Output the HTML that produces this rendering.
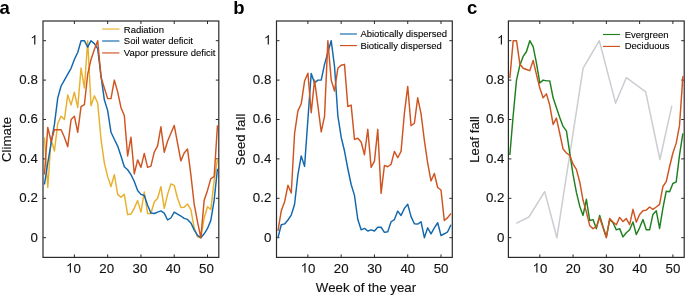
<!DOCTYPE html>
<html><head><meta charset="utf-8"><style>
html,body{margin:0;padding:0;background:#fff;}
svg{display:block;will-change:transform;}
text{font-family:"Liberation Sans",sans-serif;fill:#111;}
.tk{font-size:13.3px;stroke:#111;stroke-width:0.12px;}
.lb{font-size:13.3px;stroke:#111;stroke-width:0.12px;}
.lg{font-size:9.5px;fill:#000;stroke:#000;stroke-width:0.1px;}
.pl{font-size:18.5px;font-weight:bold;fill:#000;}
</style></head><body>
<svg width="685" height="295" viewBox="0 0 685 295">

<text x="-0.6" y="13.6" class="pl">a</text>
<text x="233.2" y="13.6" class="pl">b</text>
<text x="467.0" y="13.6" class="pl">c</text>
<rect x="43.0" y="21.0" width="175.8" height="236.39999999999998" fill="none" stroke="#2a2a2a" stroke-width="1.2"/>
<line x1="74.40" y1="21.0" x2="74.40" y2="24.0" stroke="#2a2a2a" stroke-width="1"/>
<line x1="74.40" y1="257.4" x2="74.40" y2="254.39999999999998" stroke="#2a2a2a" stroke-width="1"/>
<path d="M70.956,272.500 L69.787,272.500 L69.787,265.051 L68.839,265.850 L67.449,266.525 L67.449,265.395 L69.313,264.278 L70.345,262.980 L70.956,262.980Z" fill="#111"/>
<text x="73.40" y="272.5" class="tk">0</text>
<line x1="107.67" y1="21.0" x2="107.67" y2="24.0" stroke="#2a2a2a" stroke-width="1"/>
<line x1="107.67" y1="257.4" x2="107.67" y2="254.39999999999998" stroke="#2a2a2a" stroke-width="1"/>
<text x="106.67" y="272.5" text-anchor="middle" class="tk">20</text>
<line x1="140.95" y1="21.0" x2="140.95" y2="24.0" stroke="#2a2a2a" stroke-width="1"/>
<line x1="140.95" y1="257.4" x2="140.95" y2="254.39999999999998" stroke="#2a2a2a" stroke-width="1"/>
<text x="139.95" y="272.5" text-anchor="middle" class="tk">30</text>
<line x1="174.22" y1="21.0" x2="174.22" y2="24.0" stroke="#2a2a2a" stroke-width="1"/>
<line x1="174.22" y1="257.4" x2="174.22" y2="254.39999999999998" stroke="#2a2a2a" stroke-width="1"/>
<text x="173.22" y="272.5" text-anchor="middle" class="tk">40</text>
<line x1="207.50" y1="21.0" x2="207.50" y2="24.0" stroke="#2a2a2a" stroke-width="1"/>
<line x1="207.50" y1="257.4" x2="207.50" y2="254.39999999999998" stroke="#2a2a2a" stroke-width="1"/>
<text x="206.50" y="272.5" text-anchor="middle" class="tk">50</text>
<line x1="43.0" y1="237.70" x2="46.0" y2="237.70" stroke="#2a2a2a" stroke-width="1"/>
<line x1="218.8" y1="237.70" x2="215.8" y2="237.70" stroke="#2a2a2a" stroke-width="1"/>
<text x="37.80" y="241.50" text-anchor="end" class="tk">0</text>
<line x1="43.0" y1="198.30" x2="46.0" y2="198.30" stroke="#2a2a2a" stroke-width="1"/>
<line x1="218.8" y1="198.30" x2="215.8" y2="198.30" stroke="#2a2a2a" stroke-width="1"/>
<text x="37.80" y="202.10" text-anchor="end" class="tk">0.2</text>
<line x1="43.0" y1="158.90" x2="46.0" y2="158.90" stroke="#2a2a2a" stroke-width="1"/>
<line x1="218.8" y1="158.90" x2="215.8" y2="158.90" stroke="#2a2a2a" stroke-width="1"/>
<text x="37.80" y="162.70" text-anchor="end" class="tk">0.4</text>
<line x1="43.0" y1="119.50" x2="46.0" y2="119.50" stroke="#2a2a2a" stroke-width="1"/>
<line x1="218.8" y1="119.50" x2="215.8" y2="119.50" stroke="#2a2a2a" stroke-width="1"/>
<text x="37.80" y="123.30" text-anchor="end" class="tk">0.6</text>
<line x1="43.0" y1="80.10" x2="46.0" y2="80.10" stroke="#2a2a2a" stroke-width="1"/>
<line x1="218.8" y1="80.10" x2="215.8" y2="80.10" stroke="#2a2a2a" stroke-width="1"/>
<text x="37.80" y="83.90" text-anchor="end" class="tk">0.8</text>
<line x1="43.0" y1="40.70" x2="46.0" y2="40.70" stroke="#2a2a2a" stroke-width="1"/>
<line x1="218.8" y1="40.70" x2="215.8" y2="40.70" stroke="#2a2a2a" stroke-width="1"/>
<path d="M35.358,44.500 L34.189,44.500 L34.189,37.051 L33.241,37.850 L31.851,38.525 L31.851,37.395 L33.715,36.278 L34.748,34.980 L35.358,34.980Z" fill="#111"/>
<text transform="translate(11.1,139.5) rotate(-90)" text-anchor="middle" class="lb">Climate</text>
<rect x="276.5" y="21.0" width="175.8" height="236.39999999999998" fill="none" stroke="#2a2a2a" stroke-width="1.2"/>
<line x1="307.90" y1="21.0" x2="307.90" y2="24.0" stroke="#2a2a2a" stroke-width="1"/>
<line x1="307.90" y1="257.4" x2="307.90" y2="254.39999999999998" stroke="#2a2a2a" stroke-width="1"/>
<path d="M305.556,272.500 L304.387,272.500 L304.387,265.051 L303.439,265.850 L302.049,266.525 L302.049,265.395 L303.913,264.278 L304.945,262.980 L305.556,262.980Z" fill="#111"/>
<text x="308.00" y="272.5" class="tk">0</text>
<line x1="341.17" y1="21.0" x2="341.17" y2="24.0" stroke="#2a2a2a" stroke-width="1"/>
<line x1="341.17" y1="257.4" x2="341.17" y2="254.39999999999998" stroke="#2a2a2a" stroke-width="1"/>
<text x="341.27" y="272.5" text-anchor="middle" class="tk">20</text>
<line x1="374.45" y1="21.0" x2="374.45" y2="24.0" stroke="#2a2a2a" stroke-width="1"/>
<line x1="374.45" y1="257.4" x2="374.45" y2="254.39999999999998" stroke="#2a2a2a" stroke-width="1"/>
<text x="374.55" y="272.5" text-anchor="middle" class="tk">30</text>
<line x1="407.72" y1="21.0" x2="407.72" y2="24.0" stroke="#2a2a2a" stroke-width="1"/>
<line x1="407.72" y1="257.4" x2="407.72" y2="254.39999999999998" stroke="#2a2a2a" stroke-width="1"/>
<text x="407.82" y="272.5" text-anchor="middle" class="tk">40</text>
<line x1="441.00" y1="21.0" x2="441.00" y2="24.0" stroke="#2a2a2a" stroke-width="1"/>
<line x1="441.00" y1="257.4" x2="441.00" y2="254.39999999999998" stroke="#2a2a2a" stroke-width="1"/>
<text x="441.10" y="272.5" text-anchor="middle" class="tk">50</text>
<line x1="276.5" y1="237.70" x2="279.5" y2="237.70" stroke="#2a2a2a" stroke-width="1"/>
<line x1="452.3" y1="237.70" x2="449.3" y2="237.70" stroke="#2a2a2a" stroke-width="1"/>
<text x="271.30" y="241.50" text-anchor="end" class="tk">0</text>
<line x1="276.5" y1="198.30" x2="279.5" y2="198.30" stroke="#2a2a2a" stroke-width="1"/>
<line x1="452.3" y1="198.30" x2="449.3" y2="198.30" stroke="#2a2a2a" stroke-width="1"/>
<text x="271.30" y="202.10" text-anchor="end" class="tk">0.2</text>
<line x1="276.5" y1="158.90" x2="279.5" y2="158.90" stroke="#2a2a2a" stroke-width="1"/>
<line x1="452.3" y1="158.90" x2="449.3" y2="158.90" stroke="#2a2a2a" stroke-width="1"/>
<text x="271.30" y="162.70" text-anchor="end" class="tk">0.4</text>
<line x1="276.5" y1="119.50" x2="279.5" y2="119.50" stroke="#2a2a2a" stroke-width="1"/>
<line x1="452.3" y1="119.50" x2="449.3" y2="119.50" stroke="#2a2a2a" stroke-width="1"/>
<text x="271.30" y="123.30" text-anchor="end" class="tk">0.6</text>
<line x1="276.5" y1="80.10" x2="279.5" y2="80.10" stroke="#2a2a2a" stroke-width="1"/>
<line x1="452.3" y1="80.10" x2="449.3" y2="80.10" stroke="#2a2a2a" stroke-width="1"/>
<text x="271.30" y="83.90" text-anchor="end" class="tk">0.8</text>
<line x1="276.5" y1="40.70" x2="279.5" y2="40.70" stroke="#2a2a2a" stroke-width="1"/>
<line x1="452.3" y1="40.70" x2="449.3" y2="40.70" stroke="#2a2a2a" stroke-width="1"/>
<path d="M268.858,44.500 L267.689,44.500 L267.689,37.051 L266.741,37.850 L265.351,38.525 L265.351,37.395 L267.215,36.278 L268.248,34.980 L268.858,34.980Z" fill="#111"/>
<text transform="translate(244.7,139.5) rotate(-90)" text-anchor="middle" class="lb">Seed fall</text>
<rect x="508.4" y="21.0" width="175.8" height="236.39999999999998" fill="none" stroke="#2a2a2a" stroke-width="1.2"/>
<line x1="539.80" y1="21.0" x2="539.80" y2="24.0" stroke="#2a2a2a" stroke-width="1"/>
<line x1="539.80" y1="257.4" x2="539.80" y2="254.39999999999998" stroke="#2a2a2a" stroke-width="1"/>
<path d="M537.456,272.500 L536.287,272.500 L536.287,265.051 L535.339,265.850 L533.949,266.525 L533.949,265.395 L535.813,264.278 L536.845,262.980 L537.456,262.980Z" fill="#111"/>
<text x="539.90" y="272.5" class="tk">0</text>
<line x1="573.07" y1="21.0" x2="573.07" y2="24.0" stroke="#2a2a2a" stroke-width="1"/>
<line x1="573.07" y1="257.4" x2="573.07" y2="254.39999999999998" stroke="#2a2a2a" stroke-width="1"/>
<text x="573.17" y="272.5" text-anchor="middle" class="tk">20</text>
<line x1="606.35" y1="21.0" x2="606.35" y2="24.0" stroke="#2a2a2a" stroke-width="1"/>
<line x1="606.35" y1="257.4" x2="606.35" y2="254.39999999999998" stroke="#2a2a2a" stroke-width="1"/>
<text x="606.45" y="272.5" text-anchor="middle" class="tk">30</text>
<line x1="639.62" y1="21.0" x2="639.62" y2="24.0" stroke="#2a2a2a" stroke-width="1"/>
<line x1="639.62" y1="257.4" x2="639.62" y2="254.39999999999998" stroke="#2a2a2a" stroke-width="1"/>
<text x="639.72" y="272.5" text-anchor="middle" class="tk">40</text>
<line x1="672.90" y1="21.0" x2="672.90" y2="24.0" stroke="#2a2a2a" stroke-width="1"/>
<line x1="672.90" y1="257.4" x2="672.90" y2="254.39999999999998" stroke="#2a2a2a" stroke-width="1"/>
<text x="673.00" y="272.5" text-anchor="middle" class="tk">50</text>
<line x1="508.4" y1="237.70" x2="511.4" y2="237.70" stroke="#2a2a2a" stroke-width="1"/>
<line x1="684.2" y1="237.70" x2="681.2" y2="237.70" stroke="#2a2a2a" stroke-width="1"/>
<text x="504.40" y="241.50" text-anchor="end" class="tk">0</text>
<line x1="508.4" y1="198.30" x2="511.4" y2="198.30" stroke="#2a2a2a" stroke-width="1"/>
<line x1="684.2" y1="198.30" x2="681.2" y2="198.30" stroke="#2a2a2a" stroke-width="1"/>
<text x="504.40" y="202.10" text-anchor="end" class="tk">0.2</text>
<line x1="508.4" y1="158.90" x2="511.4" y2="158.90" stroke="#2a2a2a" stroke-width="1"/>
<line x1="684.2" y1="158.90" x2="681.2" y2="158.90" stroke="#2a2a2a" stroke-width="1"/>
<text x="504.40" y="162.70" text-anchor="end" class="tk">0.4</text>
<line x1="508.4" y1="119.50" x2="511.4" y2="119.50" stroke="#2a2a2a" stroke-width="1"/>
<line x1="684.2" y1="119.50" x2="681.2" y2="119.50" stroke="#2a2a2a" stroke-width="1"/>
<text x="504.40" y="123.30" text-anchor="end" class="tk">0.6</text>
<line x1="508.4" y1="80.10" x2="511.4" y2="80.10" stroke="#2a2a2a" stroke-width="1"/>
<line x1="684.2" y1="80.10" x2="681.2" y2="80.10" stroke="#2a2a2a" stroke-width="1"/>
<text x="504.40" y="83.90" text-anchor="end" class="tk">0.8</text>
<line x1="508.4" y1="40.70" x2="511.4" y2="40.70" stroke="#2a2a2a" stroke-width="1"/>
<line x1="684.2" y1="40.70" x2="681.2" y2="40.70" stroke="#2a2a2a" stroke-width="1"/>
<path d="M501.958,44.500 L500.789,44.500 L500.789,37.051 L499.841,37.850 L498.451,38.525 L498.451,37.395 L500.315,36.278 L501.348,34.980 L501.958,34.980Z" fill="#111"/>
<text transform="translate(478.5,139.5) rotate(-90)" text-anchor="middle" class="lb">Leaf fall</text>
<text x="366" y="291.5" text-anchor="middle" class="lb">Week of the year</text>
<path d="M44.45,137.23 L47.78,187.46 L51.11,139.20 L54.43,151.02 L57.76,123.44 L61.09,116.15 L64.42,119.50 L67.74,94.88 L71.07,104.92 L74.40,92.31 L77.72,107.48 L81.05,68.08 L84.38,87.98 L87.71,40.70 L91.03,105.71 L94.36,95.86 L97.69,102.95 L101.02,139.20 L104.34,162.84 L107.67,176.63 L111.00,186.48 L114.33,174.66 L117.66,194.36 L120.98,197.31 L124.31,194.36 L127.64,214.65 L130.97,214.06 L134.29,208.15 L137.62,200.66 L140.95,212.09 L144.28,192.00 L147.60,213.47 L150.93,213.47 L154.26,202.04 L157.59,198.30 L160.91,186.68 L164.24,208.35 L167.57,194.36 L170.90,183.92 L174.22,185.30 L177.55,198.30 L180.88,207.56 L184.20,207.16 L187.53,204.01 L190.86,209.53 L194.19,227.85 L197.51,236.71 L200.84,237.70 L204.17,218.00 L207.50,206.77 L210.82,209.53 L214.15,180.57 L217.48,158.90" fill="none" stroke="#E8B02C" stroke-width="1.45" stroke-linejoin="round"/>
<path d="M44.45,184.51 L47.78,162.84 L51.11,143.14 L54.43,124.42 L57.76,97.83 L61.09,86.01 L64.42,80.10 L67.74,74.19 L71.07,68.28 L74.40,59.41 L77.72,52.52 L81.05,40.70 L84.38,40.70 L87.71,47.20 L91.03,40.70 L94.36,43.66 L97.69,48.58 L101.02,76.16 L104.34,99.80 L107.67,110.63 L111.00,132.30 L114.33,139.20 L117.66,146.09 L120.98,155.94 L124.31,166.78 L127.64,169.74 L130.97,174.66 L134.29,181.56 L137.62,190.42 L140.95,194.36 L144.28,195.54 L147.60,205.19 L150.93,213.07 L154.26,213.47 L157.59,212.09 L160.91,210.91 L164.24,213.07 L167.57,219.97 L170.90,218.00 L174.22,212.09 L177.55,214.06 L180.88,216.03 L184.20,218.39 L187.53,219.38 L190.86,222.92 L194.19,229.82 L197.51,235.34 L200.84,237.70 L204.17,233.76 L207.50,228.44 L210.82,220.36 L214.15,200.27 L217.48,168.75" fill="none" stroke="#1268AE" stroke-width="1.45" stroke-linejoin="round"/>
<path d="M44.45,174.66 L47.78,127.38 L51.11,141.37 L54.43,129.74 L57.76,129.74 L61.09,129.74 L64.42,137.23 L67.74,146.69 L71.07,119.50 L74.40,116.15 L77.72,132.30 L81.05,106.69 L84.38,104.72 L87.71,74.19 L91.03,59.41 L94.36,49.56 L97.69,40.70 L101.02,77.15 L104.34,87.98 L107.67,98.62 L111.00,98.62 L114.33,80.10 L117.66,91.92 L120.98,107.68 L124.31,115.56 L127.64,155.94 L130.97,137.23 L134.29,173.87 L137.62,159.88 L140.95,167.37 L144.28,153.38 L147.60,167.37 L150.93,166.19 L154.26,152.20 L157.59,145.90 L160.91,126.79 L164.24,152.20 L167.57,141.17 L170.90,133.29 L174.22,125.41 L177.55,143.14 L180.88,160.87 L184.20,152.99 L187.53,149.05 L190.86,174.66 L194.19,204.21 L197.51,221.94 L200.84,237.70 L204.17,200.27 L207.50,190.42 L210.82,178.60 L214.15,176.63 L217.48,125.41" fill="none" stroke="#CF5420" stroke-width="1.45" stroke-linejoin="round"/>
<path d="M277.95,237.70 L281.28,224.70 L284.60,223.91 L287.93,219.97 L291.26,215.04 L294.59,204.21 L297.91,174.66 L301.24,155.94 L304.57,166.19 L307.90,119.50 L311.22,73.40 L314.55,83.05 L317.88,80.10 L321.21,80.10 L324.53,64.34 L327.86,52.52 L331.19,40.70 L334.52,66.31 L337.84,115.56 L341.17,137.23 L344.50,151.02 L347.83,168.75 L351.15,184.51 L354.48,195.34 L357.81,219.58 L361.14,229.82 L364.46,228.44 L367.79,231.00 L371.12,229.82 L374.45,231.00 L377.77,227.26 L381.10,227.26 L384.43,232.38 L387.76,231.79 L391.08,221.74 L394.41,219.58 L397.74,211.10 L401.07,215.44 L404.39,208.35 L407.72,204.21 L411.05,216.62 L414.38,223.71 L417.70,224.11 L421.03,221.74 L424.36,237.70 L427.69,227.85 L431.01,233.96 L434.34,227.85 L437.67,222.73 L441.00,235.53 L444.32,233.76 L447.65,231.79 L450.98,224.70" fill="none" stroke="#1268AE" stroke-width="1.45" stroke-linejoin="round"/>
<path d="M277.95,231.00 L281.28,210.71 L284.60,201.85 L287.93,185.30 L291.26,192.98 L294.59,133.29 L297.91,110.83 L301.24,103.74 L304.57,81.08 L307.90,73.20 L311.22,112.80 L314.55,80.10 L317.88,105.71 L321.21,131.91 L324.53,116.35 L327.86,40.70 L331.19,80.10 L334.52,90.94 L337.84,68.28 L341.17,65.32 L344.50,64.34 L347.83,106.50 L351.15,105.12 L354.48,139.40 L357.81,138.21 L361.14,141.96 L364.46,154.76 L367.79,129.35 L371.12,167.37 L374.45,161.07 L377.77,129.35 L381.10,193.38 L384.43,165.40 L387.76,166.78 L391.08,164.22 L394.41,151.41 L397.74,157.72 L401.07,151.41 L404.39,113.20 L407.72,86.40 L411.05,125.80 L414.38,123.24 L417.70,97.83 L421.03,113.59 L424.36,140.38 L427.69,163.23 L431.01,180.96 L434.34,173.48 L437.67,187.46 L441.00,190.03 L444.32,220.56 L447.65,217.61 L450.98,213.47" fill="none" stroke="#CF5420" stroke-width="1.45" stroke-linejoin="round"/>
<path d="M516.20,223.32 L528.90,217.01 L544.70,191.60 L556.90,237.70 L583.10,68.08 L599.30,40.70 L615.60,103.15 L626.40,77.54 L645.70,91.92 L659.90,159.49 L671.90,105.71" fill="none" stroke="#CBCDD2" stroke-width="1.5" stroke-linejoin="round"/>
<path d="M509.85,154.96 L513.18,115.56 L516.50,80.10 L519.83,65.32 L523.16,56.46 L526.49,51.53 L529.81,40.70 L533.14,46.61 L536.47,63.16 L539.80,83.05 L543.12,80.10 L546.45,80.89 L549.78,80.89 L553.11,97.83 L556.43,107.68 L559.76,117.53 L563.09,126.39 L566.42,130.93 L569.75,152.99 L573.07,174.66 L576.40,192.39 L579.73,206.18 L583.05,215.44 L586.38,199.28 L589.71,220.56 L593.04,219.58 L596.37,228.64 L599.69,215.44 L603.02,226.67 L606.35,236.91 L609.67,219.58 L613.00,222.73 L616.33,229.82 L619.66,228.64 L622.99,236.91 L626.31,232.77 L629.64,229.82 L632.97,221.94 L636.29,234.55 L639.62,227.85 L642.95,219.58 L646.28,229.82 L649.61,229.82 L652.93,214.45 L656.26,210.71 L659.59,228.44 L662.91,208.15 L666.24,191.21 L669.57,191.80 L672.90,183.52 L676.22,181.95 L679.55,154.96 L682.88,133.29" fill="none" stroke="#1E801E" stroke-width="1.45" stroke-linejoin="round"/>
<path d="M509.85,78.13 L513.18,40.70 L516.50,40.70 L519.83,63.95 L523.16,68.28 L526.49,69.46 L529.81,70.64 L533.14,60.40 L536.47,74.58 L539.80,87.98 L543.12,97.83 L546.45,93.89 L549.78,105.32 L553.11,124.42 L556.43,118.12 L559.76,133.49 L563.09,149.05 L566.42,152.99 L569.75,155.35 L573.07,164.22 L576.40,169.34 L579.73,181.95 L583.05,200.27 L586.38,212.09 L589.71,225.68 L593.04,228.64 L596.37,226.67 L599.69,217.41 L603.02,227.85 L606.35,237.70 L609.67,218.59 L613.00,221.94 L616.33,224.70 L619.66,217.41 L622.99,221.55 L626.31,218.59 L629.64,224.70 L632.97,209.33 L636.29,222.14 L639.62,214.45 L642.95,210.71 L646.28,210.12 L649.61,206.97 L652.93,209.33 L656.26,206.97 L659.59,204.41 L662.91,186.48 L666.24,181.56 L669.57,166.78 L672.90,152.99 L676.22,143.14 L679.55,125.41 L682.88,76.16" fill="none" stroke="#CF5420" stroke-width="1.45" stroke-linejoin="round"/>
<line x1="102.1" y1="29.05" x2="119.4" y2="29.05" stroke="#E8B02C" stroke-width="1.15"/>
<text x="123.8" y="32.75" class="lg">Radiation</text>
<line x1="102.1" y1="41.00" x2="119.4" y2="41.00" stroke="#1268AE" stroke-width="1.15"/>
<text x="123.8" y="44.00" class="lg">Soil water deficit</text>
<line x1="102.1" y1="52.95" x2="119.4" y2="52.95" stroke="#CF5420" stroke-width="1.15"/>
<text x="123.8" y="55.95" class="lg">Vapor pressure deficit</text>
<line x1="339.9" y1="34.00" x2="356.9" y2="34.00" stroke="#1268AE" stroke-width="1.15"/>
<text x="360.4" y="37.00" class="lg">Abiotically dispersed</text>
<line x1="339.9" y1="45.60" x2="356.9" y2="45.60" stroke="#CF5420" stroke-width="1.15"/>
<text x="360.4" y="48.60" class="lg">Biotically dispersed</text>
<line x1="603" y1="34.50" x2="620" y2="34.50" stroke="#1E801E" stroke-width="1.15"/>
<text x="624.7" y="37.50" class="lg">Evergreen</text>
<line x1="603" y1="46.40" x2="620" y2="46.40" stroke="#CF5420" stroke-width="1.15"/>
<text x="624.7" y="49.40" class="lg">Deciduous</text>
</svg>
</body></html>
